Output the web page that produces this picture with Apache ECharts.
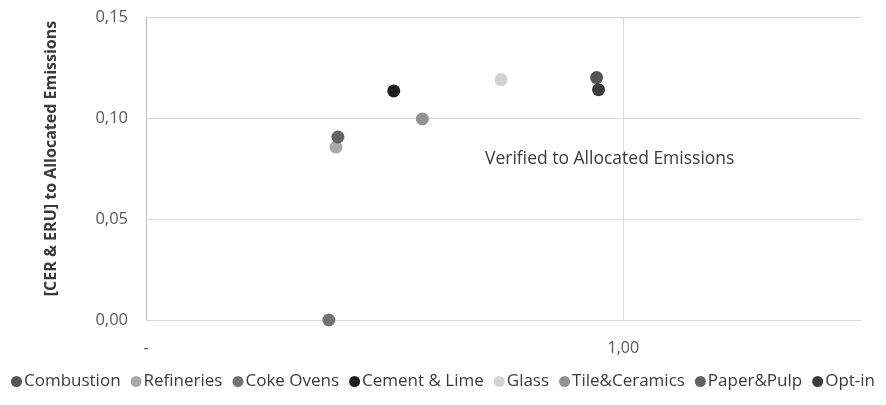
<!DOCTYPE html>
<html>
<head>
<meta charset="utf-8">
<script src="https://cdn.jsdelivr.net/npm/echarts@6/dist/echarts.min.js"></script>
<style>
  html, body { margin: 0; padding: 0; background: #fff; }
  #chart { width: 886px; height: 405px; }
</style>
</head>
<body>
<div id="chart"></div>
<script>
// Sectors, with [verified/allocated, (CER & ERU)/allocated] per sector
const sectors = ['Combustion', 'Refineries', 'Coke Ovens', 'Cement & Lime', 'Glass', 'Tile&Ceramics', 'Paper&Pulp', 'Opt-in'];
const verifiedRatio = [0.944, 0.398, 0.383, 0.519, 0.744, 0.579, 0.402, 0.948];
const creditRatio   = [0.120, 0.0856, 0.000, 0.1134, 0.119, 0.0995, 0.0906, 0.114];
const sectorColors  = ['#555555', '#a8a8a8', '#737373', '#1e1e1e', '#d2d2d2', '#929292', '#646464', '#3c3c3c'];

const xTickLabels = { 0: '-', 1: '1,00' };

const FONT = '"Open Sans", sans-serif';

const series = sectors.map((name, i) => ({
  name: name,
  type: 'scatter',
  symbolSize: 13,
  itemStyle: { color: sectorColors[i], opacity: 1 },
  data: [[verifiedRatio[i], creditRatio[i]]]
}));

const chart = echarts.init(document.getElementById('chart'));
chart.setOption({
  animation: false,
  textStyle: { fontFamily: FONT },
  title: {
    text: 'Verified to Allocated Emissions',
    left: 480, top: 145,
    textStyle: { fontFamily: FONT, fontSize: 17.5, fontWeight: 'normal', color: '#3a3a3a' }
  },
  grid: { left: 146, right: 24, top: 17, bottom: 85, containLabel: false },
  xAxis: {
    type: 'value', min: 0, max: 1.5, interval: 1,
    axisLine: { show: false },
    axisTick: { show: false },
    splitLine: { show: true, lineStyle: { color: ['transparent', '#d9d9d9', 'transparent'], width: 1 } },
    axisLabel: {
      margin: 20, color: '#595959', fontSize: 16, fontFamily: FONT,
      formatter: v => (xTickLabels[v] !== undefined ? xTickLabels[v] : '')
    }
  },
  yAxis: {
    type: 'value', min: 0, max: 0.15, interval: 0.05,
    name: '[CER & ERU] to Allocated Emissions',
    nameLocation: 'middle', nameGap: 87,
    nameTextStyle: { fontFamily: FONT, fontSize: 16, fontWeight: 'bold', color: '#3a3a3a', padding: [0, 0, 0, 20] },
    axisLine: { show: true, lineStyle: { color: '#bfbfbf' } },
    axisTick: { show: false },
    splitLine: { show: true, lineStyle: { color: '#d9d9d9' } },
    axisLabel: {
      margin: 18, color: '#595959', fontSize: 16.5, fontFamily: FONT,
      formatter: v => v.toFixed(2).replace('.', ',')
    }
  },
  legend: {
    bottom: 10, left: 'center',
    icon: 'circle', itemWidth: 11, itemHeight: 11, itemGap: 10,
    textStyle: { fontFamily: FONT, fontSize: 17, color: '#3a3a3a', padding: [0, 0, 0, -3] },
    data: sectors
  },
  series: series
});
</script>
</body>
</html>
